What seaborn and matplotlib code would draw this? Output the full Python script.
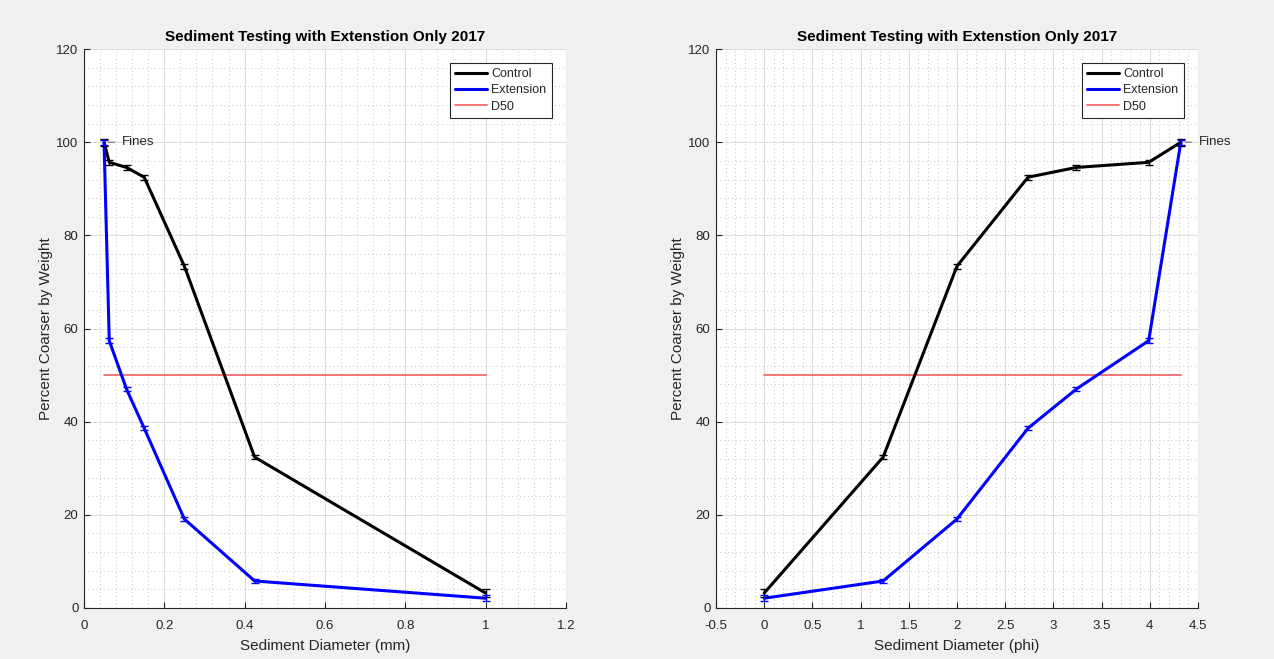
import numpy as np
import pandas as pd
import matplotlib
matplotlib.use("Agg")
import matplotlib.pyplot as plt
import seaborn as sns
from matplotlib.ticker import MultipleLocator, FuncFormatter

# Sieve sizes (mm) and the equivalent phi sizes
diam_mm = [1.0, 0.425, 0.25, 0.15, 0.106, 0.063, 0.05]
diam_phi = [0.0, 1.234, 2.0, 2.737, 3.238, 3.989, 4.322]

# Percent coarser by weight
control = [3.2, 32.4, 73.4, 92.5, 94.6, 95.7, 100.0]
extension = [2.1, 5.8, 19.1, 38.6, 47.0, 57.4, 100.0]
control_err = [0.9, 0.5, 0.5, 0.5, 0.5, 0.5, 0.7]
extension_err = [0.7, 0.4, 0.4, 0.4, 0.5, 0.5, 0.5]
d50 = 50

sns.set_style("white")
plt.rcParams["font.family"] = ["Liberation Sans", "DejaVu Sans"]

fig = plt.figure(figsize=(12.74, 6.59), dpi=100, facecolor="#f0f0f0")
ax1 = fig.add_axes([0.0659, 0.0774, 0.3783, 0.848])
ax2 = fig.add_axes([0.5620, 0.0774, 0.3783, 0.848])

def draw(ax, x, xlim, xmajor, xminor, xlabel):
    df = pd.DataFrame({"x": x * 2, "y": control + extension,
                       "series": ["Control"] * len(x) + ["Extension"] * len(x)})
    sns.lineplot(data=df, x="x", y="y", hue="series", sort=False,
                 palette={"Control": "black", "Extension": "#0000ff"},
                 linewidth=2.2, ax=ax, estimator=None, zorder=3)
    ax.errorbar(x, control, yerr=control_err, fmt="none", ecolor="black",
                elinewidth=1.0, capsize=3, capthick=1.0, zorder=4)
    ax.errorbar(x, extension, yerr=extension_err, fmt="none", ecolor="#0000ff",
                elinewidth=1.0, capsize=3, capthick=1.0, zorder=4)
    ax.plot([min(x), max(x)], [d50, d50], color="#f26b6b", linewidth=1.3,
            label="D50", zorder=2)
    ax.annotate("Fines", xy=(x[-1], 100), xytext=(18, 0),
                textcoords="offset pixels", va="center", ha="left",
                fontsize=9.5, color="#262626", annotation_clip=False,
                arrowprops=dict(arrowstyle="-", color="#888888", lw=1,
                                shrinkA=3, shrinkB=3))
    ax.set_xlim(*xlim)
    ax.set_ylim(0, 120)
    ax.xaxis.set_major_locator(MultipleLocator(xmajor))
    ax.xaxis.set_minor_locator(MultipleLocator(xminor))
    ax.yaxis.set_major_locator(MultipleLocator(20))
    ax.yaxis.set_minor_locator(MultipleLocator(4))
    ax.xaxis.set_major_formatter(FuncFormatter(lambda v, p: f"{v:g}"))
    ax.grid(True, which="major", color="#dcdcdc", linewidth=0.8, linestyle="-")
    ax.grid(True, which="minor", color="#c4c4c4", linewidth=0.7, linestyle=(0, (1, 3)))
    ax.set_axisbelow(True)
    ax.set_facecolor("white")
    for s in ["top", "right"]:
        ax.spines[s].set_visible(False)
    for s in ["left", "bottom"]:
        ax.spines[s].set_color("#262626")
        ax.spines[s].set_linewidth(0.8)
    ax.tick_params(which="major", direction="in", length=4, width=0.8,
                   colors="#262626", labelsize=9.5, left=True, bottom=True)
    ax.tick_params(axis="x", which="major", pad=9)
    ax.tick_params(axis="y", which="major", pad=4)
    ax.tick_params(which="minor", length=0)
    ax.set_xlabel(xlabel, fontsize=11, color="#262626", labelpad=5)
    ax.set_ylabel("Percent Coarser by Weight", fontsize=11, color="#262626", labelpad=2)
    ax.set_title("Sediment Testing with Extenstion Only 2017", fontsize=11,
                 fontweight="bold", color="black", pad=6)
    handles, labels = ax.get_legend_handles_labels()
    order = [labels.index(n) for n in ["Control", "Extension", "D50"]]
    leg = ax.legend([handles[i] for i in order], [labels[i] for i in order],
                    loc="upper right", bbox_to_anchor=(0.978, 0.982),
                    fontsize=9, frameon=True, fancybox=False, framealpha=1,
                    edgecolor="#262626", handlelength=2.6, borderpad=0.4,
                    labelspacing=0.35, handletextpad=0.35, borderaxespad=0.3)
    leg.get_frame().set_linewidth(0.8)

draw(ax1, diam_mm, (0, 1.2), 0.2, 0.04, "Sediment Diameter (mm)")
draw(ax2, diam_phi, (-0.5, 4.5), 0.5, 0.1, "Sediment Diameter (phi)")

fig.savefig("out.png", dpi=100, facecolor=fig.get_facecolor())
